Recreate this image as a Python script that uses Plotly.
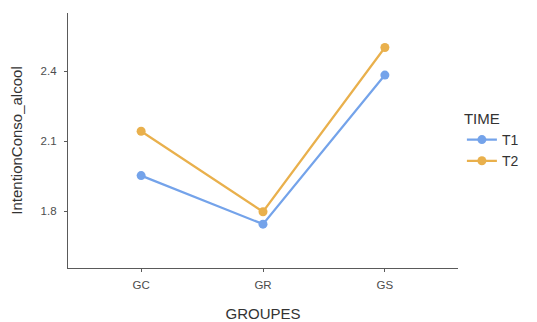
import plotly.graph_objects as go

groupes = ["GC", "GR", "GS"]
t1_values = [1.952, 1.744, 2.383]
t2_values = [2.142, 1.797, 2.501]
series_names = ["T1", "T2"]
y_ticks = [1.8, 2.1, 2.4]

colors = {"T1": "#74a3ea", "T2": "#e9b04c"}

fig = go.Figure()
for name, vals in zip(series_names, [t1_values, t2_values]):
    fig.add_trace(go.Scatter(
        x=groupes, y=vals, name=name, mode="lines+markers",
        line=dict(color=colors[name], width=2.2),
        marker=dict(color=colors[name], size=9),
    ))

axis_common = dict(
    showline=True, linecolor="#5a5a5a", linewidth=1.2,
    ticks="outside", ticklen=3, tickcolor="#5a5a5a",
    showgrid=False, zeroline=False, automargin=False,
    tickfont=dict(family="Liberation Sans, Arial", size=11.5, color="#4d4d4d"),
    title_font=dict(family="Liberation Sans, Arial", size=15, color="#333333"),
)

# page body has an 8px margin, so the figure is sized to fit the 537x322 window
fig.update_layout(
    width=529, height=314,
    margin=dict(l=60, r=79, t=5, b=54),
    plot_bgcolor="white", paper_bgcolor="white",
    font=dict(family="Liberation Sans, Arial", color="#333333"),
    xaxis=dict(range=[-0.6, 2.6], ticklabelstandoff=3,
               title=dict(text="GROUPES", standoff=25), **axis_common),
    yaxis=dict(range=[1.556, 2.649], tickvals=y_ticks, ticktext=["1.8", "2.1", "2.4"],
               ticklabelstandoff=5,
               title=dict(text="IntentionConso_alcool", standoff=14), **axis_common),
    legend=dict(
        title=dict(text="TIME", font=dict(size=15, color="#333333")),
        font=dict(size=14, color="#333333"),
        x=1.01, xanchor="left", y=0.5, yanchor="middle",
        itemwidth=30, tracegroupgap=0,
    ),
)

fig.write_html("out.html")
